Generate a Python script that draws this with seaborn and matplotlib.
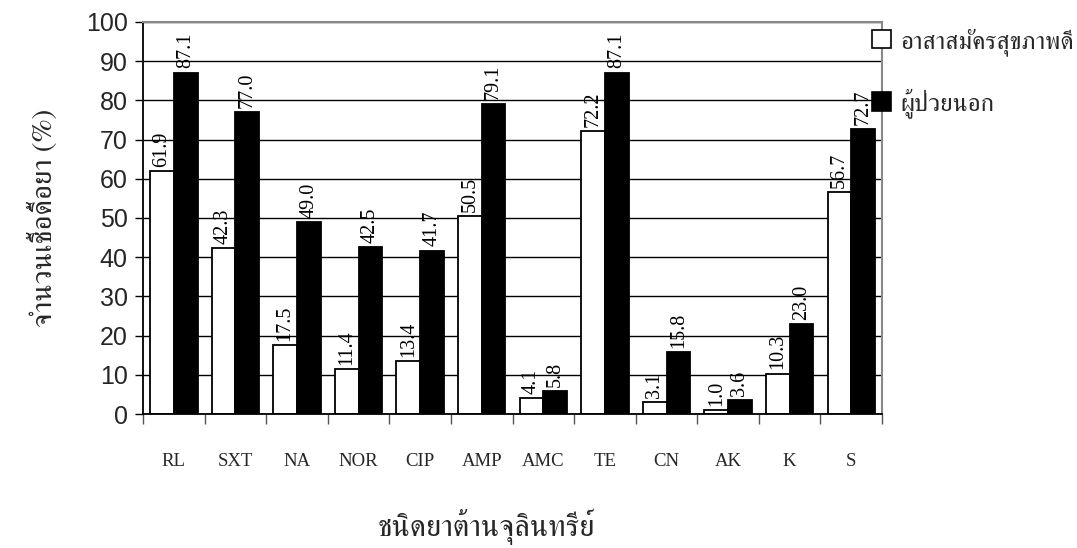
import matplotlib
matplotlib.use("Agg")
import matplotlib.pyplot as plt
from matplotlib import font_manager
from matplotlib.patches import Patch
import seaborn as sns
import pandas as pd

categories = ["RL", "SXT", "NA", "NOR", "CIP", "AMP", "AMC", "TE", "CN", "AK", "K", "S"]
healthy = [61.9, 42.3, 17.5, 11.4, 13.4, 50.5, 4.1, 72.2, 3.1, 1.0, 10.3, 56.7]
outpatient = [87.1, 77.0, 49.0, 42.5, 41.7, 79.1, 5.8, 87.1, 15.8, 3.6, 23.0, 72.7]
series_names = ["อาสาสมัครสุขภาพดี", "ผู้ป่วยนอก"]
y_label = "จำนวนเชื้อดื้อยา (%)"
x_label = "ชนิดยาต้านจุลินทรีย์"

# find a font with Thai glyphs (prefer light/regular weight, serif)
thai_font = None
thai_weight = 400
try:
    from fontTools.ttLib import TTFont
    cands = []
    for f in font_manager.fontManager.ttflist:
        try:
            tt = TTFont(f.fname, fontNumber=0, lazy=True)
            cmap = tt.getBestCmap()
            if cmap and 0x0E01 in cmap and 0x0E49 in cmap:
                w = f.weight if isinstance(f.weight, int) else 400
                cands.append((f.name, w, f.style))
        except Exception:
            pass
    def score(c):
        name, w, st = c
        return (0 if "Serif" in name else 1, abs(w - 300), 0 if st == "normal" else 1)
    cands.sort(key=score)
    if cands:
        thai_font = cands[0][0]
        thai_weight = cands[0][1]
except Exception:
    pass
thai_fam = ([thai_font] if thai_font else []) + ["DejaVu Sans"]

sns.set_theme(style="white")
plt.rcParams["font.family"] = ["Liberation Sans", "DejaVu Sans"]

df = pd.DataFrame({
    "cat": categories * 2,
    "val": healthy + outpatient,
    "grp": [series_names[0]] * len(categories) + [series_names[1]] * len(categories),
})

fig = plt.figure(figsize=(10.77, 5.48), dpi=100)
ax = fig.add_axes([0.1328, 0.2445, 0.819 - 0.1328, 0.9599 - 0.2445])

sns.barplot(data=df, x="cat", y="val", hue="grp", order=categories,
            hue_order=series_names, palette=["white", "black"],
            edgecolor="black", linewidth=1.3, width=0.77, ax=ax,
            saturation=1, legend=False)

for cont in ax.containers:
    ax.bar_label(cont, fmt="%.1f", rotation=90, padding=3,
                 fontfamily="Liberation Serif", fontsize=14.5, color="black")

ax.set_ylim(0, 100)
ax.set_xlim(-0.5, len(categories) - 0.5)
ax.set_yticks(range(0, 101, 10))
ax.yaxis.grid(True, color="black", linewidth=1)
ax.set_axisbelow(True)
ax.tick_params(axis="y", which="major", left=True, length=6, width=1,
               direction="out", labelsize=18, color="black", pad=5)
ax.set_xticks(range(len(categories)))
ax.set_xticklabels(categories, fontfamily="Liberation Serif", fontsize=13.5)
ax.set_xticks([i - 0.5 for i in range(len(categories) + 1)], minor=True)
ax.tick_params(axis="x", which="major", length=0, pad=28)
ax.tick_params(axis="x", which="minor", bottom=True, length=7, width=1,
               direction="out", color="#555555")

for s in ["left", "bottom"]:
    ax.spines[s].set_color("black")
    ax.spines[s].set_linewidth(1.3)
for s in ["top", "right"]:
    ax.spines[s].set_color("#888888")
    ax.spines[s].set_linewidth(1.5)

ax.set_ylabel(y_label, fontfamily=thai_fam, fontweight=thai_weight, fontsize=21, labelpad=20)
ax.set_xlabel(x_label, fontfamily=thai_fam, fontweight=thai_weight, fontsize=22)
ax.xaxis.set_label_coords(0.464, -0.24)

handles = [Patch(facecolor="white", edgecolor="black", linewidth=1.2),
           Patch(facecolor="black", edgecolor="black", linewidth=1.2)]
leg = ax.legend(handles, series_names, loc="upper left",
                bbox_to_anchor=(0.9865, 0.985), frameon=False, borderaxespad=0,
                borderpad=0, prop={"family": thai_fam, "size": 18, "weight": thai_weight},
                handlelength=0.75, handleheight=0.75, handletextpad=0.4,
                labelspacing=1.3)

fig.savefig("out.png", dpi=100, facecolor="white")
